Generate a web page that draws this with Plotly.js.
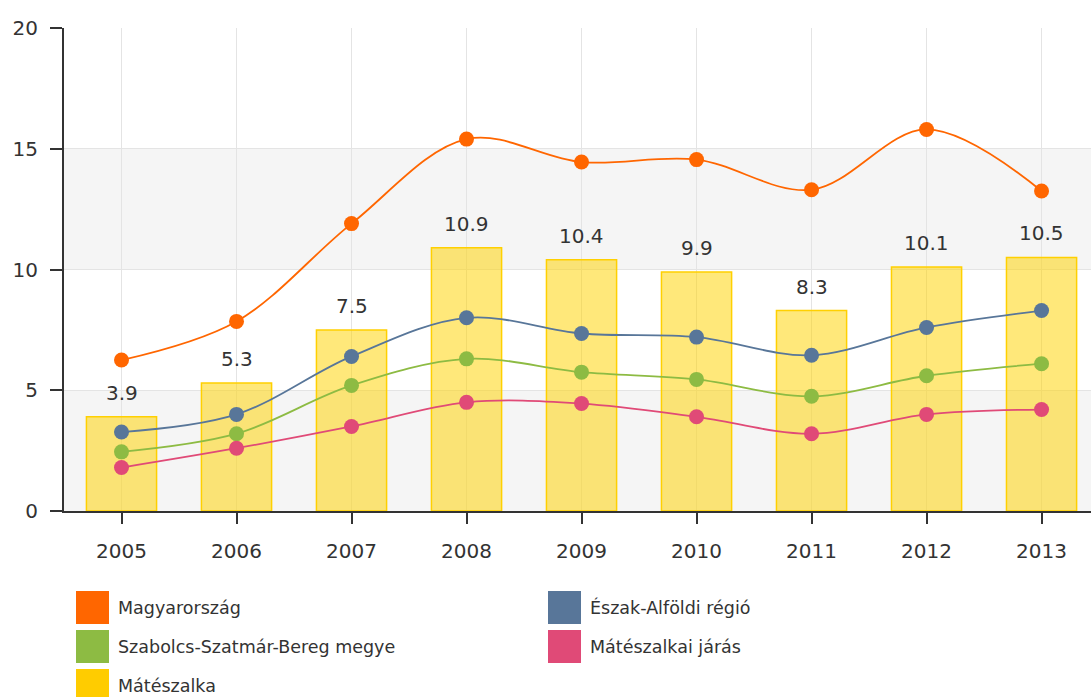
<!DOCTYPE html>
<html>
<head>
<meta charset="utf-8">
<script src="https://cdn.plot.ly/plotly-3.0.1.min.js"></script>
<style>html,body{margin:0;padding:0;background:#fff;}#chart{width:1091px;height:697px;}</style>
</head>
<body>
<div id="chart"></div>
<script>
const years = ["2005","2006","2007","2008","2009","2010","2011","2012","2013"];
const magyarorszag = [6.25, 7.85, 11.9, 15.4, 14.45, 14.55, 13.3, 15.8, 13.25];
const eszakAlfoldi = [3.27, 4.0, 6.4, 8.0, 7.35, 7.2, 6.45, 7.6, 8.3];
const szabolcs = [2.45, 3.2, 5.2, 6.3, 5.75, 5.45, 4.75, 5.6, 6.1];
const mateszalkaiJaras = [1.8, 2.6, 3.5, 4.5, 4.45, 3.9, 3.2, 4.0, 4.2];
const mateszalka = [3.9, 5.3, 7.5, 10.9, 10.4, 9.9, 8.3, 10.1, 10.5];
const legendLabels = ["Magyarország","Észak-Alföldi régió","Szabolcs-Szatmár-Bereg megye","Mátészalkai járás","Mátészalka"];
const legendColors = ["#ff6600","#587699","#8dbb43","#e04a77","#ffcc00"];

const font = "DejaVu Sans, Verdana, sans-serif";

function lineTrace(name, vals, color) {
  return {type:"scatter", mode:"lines+markers", x:years, y:vals, name:name,
    line:{color:color, width:1.8, shape:"spline", smoothing:1},
    marker:{color:color, size:15}, cliponaxis:false, hoverinfo:"skip"};
}

const traces = [
  {type:"bar", x:years, y:mateszalka, name:"Mátészalka", width:0.61,
   marker:{color:"rgba(255,210,0,0.52)", line:{color:"#ffd000", width:1.5}}, hoverinfo:"skip"},
  lineTrace("Magyarország", magyarorszag, legendColors[0]),
  lineTrace("Észak-Alföldi régió", eszakAlfoldi, legendColors[1]),
  lineTrace("Szabolcs-Szatmár-Bereg megye", szabolcs, legendColors[2]),
  lineTrace("Mátészalkai járás", mateszalkaiJaras, legendColors[3])
];

const shapes = [];
[[0,5],[10,15]].forEach(b => shapes.push({type:"rect", xref:"paper", yref:"y", x0:0, x1:1, y0:b[0], y1:b[1],
  fillcolor:"#f5f5f5", line:{width:0}, layer:"below"}));

const annotations = mateszalka.map((v,i) => ({xref:"x", yref:"y", x:i, y:v, text:v.toFixed(1), showarrow:false,
  xanchor:"center", yanchor:"bottom", yshift:10, font:{family:font, size:20, color:"#333"}}));

// legend (manual, square swatches, two columns)
legendLabels.forEach((lab,i) => {
  const col = i % 2, row = Math.floor(i/2);
  const x0 = col === 0 ? 76 : 548;
  const y0 = 591 + row*39;
  shapes.push({type:"rect", xref:"paper", yref:"paper",
    x0:(x0-64)/1027, x1:(x0+33-64)/1027, y0:(511-y0)/483, y1:(511-(y0+33))/483,
    fillcolor:legendColors[i], line:{width:0}});
  annotations.push({xref:"paper", yref:"paper", x:(x0+40-64)/1027, y:(511-(y0+16.5))/483,
    xanchor:"left", yanchor:"middle", showarrow:false, text:lab,
    font:{family:font, size:17.5, color:"#333"}});
});

const layout = {
  width:1091, height:697,
  margin:{l:64, r:0, t:28, b:186, pad:0},
  paper_bgcolor:"#fff", plot_bgcolor:"rgba(0,0,0,0)",
  showlegend:false,
  font:{family:font, size:20, color:"#333"},
  xaxis:{type:"category", range:[-0.5, 8.43], showgrid:true, gridcolor:"#e4e4e4", gridwidth:1,
    showline:true, linecolor:"#333", linewidth:2, ticks:"outside", ticklen:11, tickcolor:"#333", tickwidth:2,
    ticklabelstandoff:10, tickfont:{family:font, size:20, color:"#333"}, zeroline:false, fixedrange:true},
  yaxis:{range:[0,20], dtick:5, showgrid:true, gridcolor:"#e4e4e4", gridwidth:1,
    showline:true, linecolor:"#333", linewidth:2, ticks:"outside", ticklen:12, tickcolor:"#333", tickwidth:2,
    ticklabelstandoff:8, tickfont:{family:font, size:20, color:"#333"}, zeroline:false, fixedrange:true},
  bargap:0.39,
  shapes:shapes, annotations:annotations
};

Plotly.newPlot("chart", traces, layout, {staticPlot:true, displayModeBar:false});
</script>
</body>
</html>
